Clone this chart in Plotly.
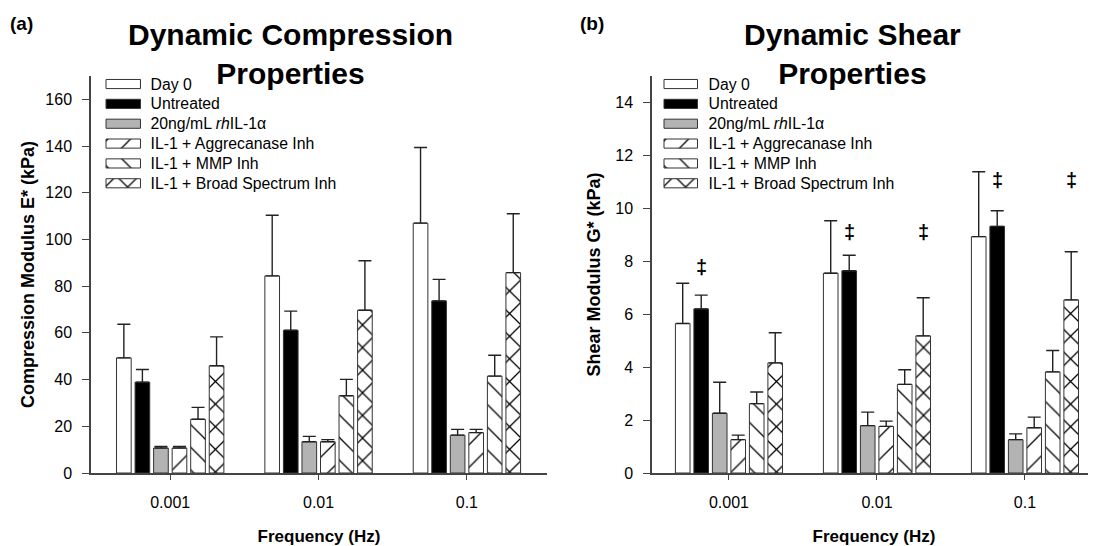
import plotly.graph_objects as go

# ---------------- data ----------------
freq_labels = ["0.001", "0.01", "0.1"]
series_names = ["Day 0", "Untreated", "20ng/mL <i>rh</i>IL-1α",
                "IL-1 + Aggrecanase Inh", "IL-1 + MMP Inh", "IL-1 + Broad Spectrum Inh"]

# Compression modulus E* (kPa): mean and +SD per frequency
comp_day0 = [49.3, 84.4, 107.0]
comp_untreated = [38.9, 61.1, 73.7]
comp_il1 = [10.7, 13.4, 16.2]
comp_aggr = [10.7, 13.4, 17.3]
comp_mmp = [23.0, 33.1, 41.5]
comp_broad = [45.9, 69.7, 85.8]
comp_day0_err = [14.4, 26.0, 32.4]
comp_untreated_err = [5.4, 8.2, 9.2]
comp_il1_err = [0.7, 2.3, 2.5]
comp_aggr_err = [0.7, 0.9, 1.4]
comp_mmp_err = [5.1, 7.0, 8.9]
comp_broad_err = [12.4, 21.2, 25.2]

# Shear modulus G* (kPa)
shear_day0 = [5.65, 7.55, 8.93]
shear_untreated = [6.20, 7.64, 9.32]
shear_il1 = [2.26, 1.79, 1.26]
shear_aggr = [1.26, 1.76, 1.71]
shear_mmp = [2.62, 3.35, 3.82]
shear_broad = [4.16, 5.18, 6.54]
shear_day0_err = [1.52, 1.98, 2.45]
shear_untreated_err = [0.52, 0.59, 0.59]
shear_il1_err = [1.17, 0.51, 0.22]
shear_aggr_err = [0.17, 0.20, 0.40]
shear_mmp_err = [0.44, 0.55, 0.81]
shear_broad_err = [1.14, 1.44, 1.82]

# significance markers (‡) on shear panel: frequency index, series index, height
sig_freq = [0, 1, 1, 2, 2]
sig_series = [1, 1, 5, 1, 5]
sig_y = [7.77, 9.12, 9.12, 11.07, 11.07]

# ---------------- styling ----------------
PAGE_W, PAGE_H = 1096, 546
OFF = 8  # default page margin around the figure
W, H = PAGE_W - OFF, PAGE_H - OFF
FONT = "Liberation Sans, Arial, sans-serif"
fills = ["white", "black", "#b3b3b3", "white", "white", "white"]
patterns = ["", "", "", "/", "\\", "x"]
solidities = [0.1, 0.1, 0.1, 0.08, 0.08, 0.15]
BARGAP = 0.25
BARGROUPGAP = 0.21

comp_vals = [comp_day0, comp_untreated, comp_il1, comp_aggr, comp_mmp, comp_broad]
comp_errs = [comp_day0_err, comp_untreated_err, comp_il1_err, comp_aggr_err, comp_mmp_err, comp_broad_err]
shear_vals = [shear_day0, shear_untreated, shear_il1, shear_aggr, shear_mmp, shear_broad]
shear_errs = [shear_day0_err, shear_untreated_err, shear_il1_err, shear_aggr_err, shear_mmp_err, shear_broad_err]


def fx(p):
    return min(1.0, (p - OFF) / W)


def fy(p):
    return 1 - (p - OFF) / H


def marker_style(k):
    return dict(color=fills[k], line=dict(color="#333333", width=1),
                pattern=dict(shape=patterns[k], bgcolor=fills[k], fgcolor="#000000",
                             fgopacity=1, size=16, solidity=solidities[k], fillmode="replace"))


fig = go.Figure()
xpos = list(range(len(freq_labels)))

for vals, errs, xa, ya in [(comp_vals, comp_errs, "x", "y"), (shear_vals, shear_errs, "x2", "y2")]:
    for k in range(len(series_names)):
        fig.add_trace(go.Bar(
            x=xpos, y=vals[k], name=series_names[k], xaxis=xa, yaxis=ya,
            showlegend=False,
            error_y=dict(type="data", symmetric=False, array=errs[k],
                         arrayminus=[0] * len(errs[k]), color="#222222",
                         thickness=1.4, width=6.5),
            marker=marker_style(k),
        ))

# legend keys drawn as small bars on hidden axes (one bar per series)
for xa, ya in [("x3", "y3"), ("x4", "y4")]:
    for k in range(len(series_names)):
        fig.add_trace(go.Bar(
            y=[series_names[k]], x=[1], orientation="h", width=0.46,
            xaxis=xa, yaxis=ya, showlegend=False, hoverinfo="skip",
            marker=marker_style(k),
        ))

axis_common = dict(showline=True, linecolor="#444444", linewidth=1.5, ticks="outside",
                   tickcolor="#444444", showgrid=False, zeroline=False, automargin=False,
                   tickfont=dict(family=FONT, size=16, color="black"))
plot_top, plot_bot = 76, 473

legend_y = dict(type="category", categoryarray=series_names, autorange="reversed",
                side="right", showgrid=False, zeroline=False, showline=False, ticks="",
                automargin=False, tickfont=dict(family=FONT, size=15.8, color="black"),
                domain=[fy(193.2), fy(74.1)])

fig.update_layout(
    width=W, height=H, margin=dict(l=0, r=0, t=0, b=0, autoexpand=False),
    paper_bgcolor="white", plot_bgcolor="white",
    barmode="overlay", bargap=BARGAP, bargroupgap=BARGROUPGAP,
    font=dict(family=FONT, color="black"),
    xaxis=dict(domain=[fx(91), fx(547)], range=[-0.534, 2.54], tickvals=xpos,
               ticktext=freq_labels, ticklen=5, anchor="y", ticklabelstandoff=9,
               title=dict(text="<b>Frequency (Hz)</b>", font=dict(family=FONT, size=17), standoff=20),
               **axis_common),
    yaxis=dict(domain=[fy(plot_bot), fy(plot_top)], range=[0, 170], tick0=0, dtick=20,
               ticklen=7, anchor="x", ticklabelstandoff=7,
               title=dict(text="<b>Compression Modulus E* (kPa)</b>", font=dict(family=FONT, size=18), standoff=6),
               **axis_common),
    xaxis2=dict(domain=[fx(652), fx(1096)], range=[-0.52, 2.48], tickvals=xpos,
                ticktext=freq_labels, ticklen=5, anchor="y2", ticklabelstandoff=9,
                title=dict(text="<b>Frequency (Hz)</b>", font=dict(family=FONT, size=17), standoff=20),
                **axis_common),
    yaxis2=dict(domain=[fy(plot_bot), fy(plot_top)], range=[0, 15], tick0=0, dtick=2,
                ticklen=7, anchor="x2", ticklabelstandoff=7,
                title=dict(text="<b>Shear Modulus G* (kPa)</b>", font=dict(family=FONT, size=18), standoff=10),
                **axis_common),
    xaxis3=dict(domain=[fx(105), fx(141.5)], range=[-0.03, 1.03], visible=False, anchor="y3",
                fixedrange=True, automargin=False),
    yaxis3=dict(anchor="x3", ticklabelstandoff=8, **legend_y),
    xaxis4=dict(domain=[fx(663), fx(698.5)], range=[-0.03, 1.03], visible=False, anchor="y4",
                fixedrange=True, automargin=False),
    yaxis4=dict(anchor="x4", ticklabelstandoff=9, **legend_y),
)
# main panels need grouped bars; legend panels use one bar per row
fig.update_layout(barmode="group")

annotations = [
    dict(text="<b>(a)</b>", x=fx(8), y=fy(23), xanchor="left", yanchor="middle",
         font=dict(family=FONT, size=19)),
    dict(text="<b>(b)</b>", x=fx(578), y=fy(23), xanchor="left", yanchor="middle",
         font=dict(family=FONT, size=19)),
    dict(text="<b>Dynamic Compression<br>Properties</b>", x=fx(290), y=fy(54),
         xanchor="center", yanchor="middle", font=dict(family=FONT, size=30)),
    dict(text="<b>Dynamic Shear<br>Properties</b>", x=fx(852), y=fy(54),
         xanchor="center", yanchor="middle", font=dict(family=FONT, size=30)),
]
for a in annotations:
    a.update(xref="paper", yref="paper", showarrow=False)

n = len(series_names)
slot = (1 - BARGAP) / n
for g, s, yv in zip(sig_freq, sig_series, sig_y):
    annotations.append(dict(text="<b>‡</b>", x=xpos[g] + (s - (n - 1) / 2) * slot, y=yv,
                            xref="x2", yref="y2", showarrow=False, xanchor="center",
                            yanchor="middle", font=dict(family=FONT, size=20)))

fig.update_layout(annotations=annotations)
fig.write_html("out.html")
